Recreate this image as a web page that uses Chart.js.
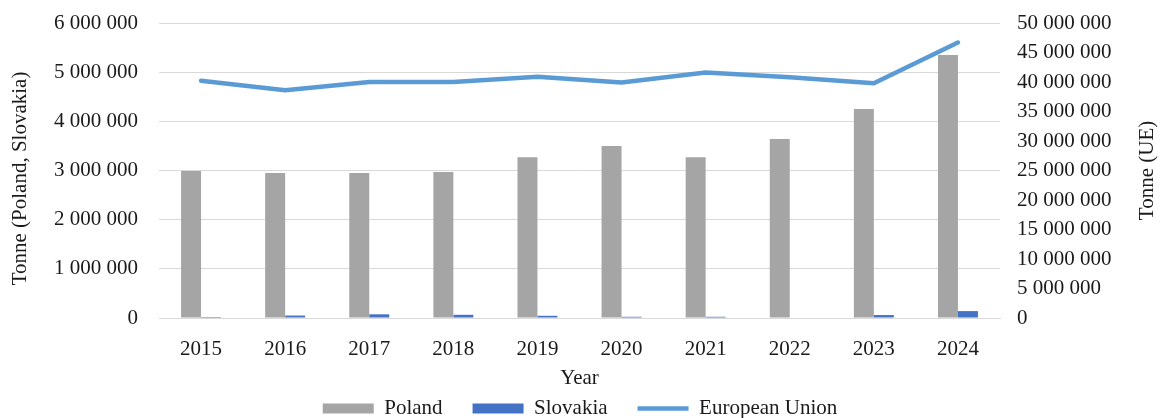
<!DOCTYPE html>
<html>
<head>
<meta charset="utf-8">
<script src="https://cdn.jsdelivr.net/npm/chart.js@4.4.1/dist/chart.umd.min.js"></script>
<style>
  html, body { margin: 0; padding: 0; background: #fff; overflow: hidden; }
  #wrap { width: 1160px; height: 418px; overflow: hidden; }
</style>
</head>
<body>
<div id="wrap"><canvas id="chartCanvas" width="1160" height="429"></canvas></div>
<script>
const years = ['2015', '2016', '2017', '2018', '2019', '2020', '2021', '2022', '2023', '2024'];
const poland = [2990000, 2950000, 2950000, 2970000, 3270000, 3500000, 3270000, 3640000, 4250000, 5350000];
const slovakia = [20000, 50000, 75000, 65000, 45000, 25000, 25000, 10000, 60000, 140000];
const europeanUnion = [40200000, 38600000, 40000000, 40000000, 40900000, 39900000, 41600000, 40800000, 39800000, 46700000];

const serif = "'Liberation Serif', 'Times New Roman', serif";
const textColor = '#1a1a1a';

function spaced(v) {
    return Math.round(v).toString().replace(/\B(?=(\d{3})+(?!\d))/g, ' ');
}

// titres verticaux des deux axes (lus de bas en haut)
const sideTitles = {
    id: 'sideTitles',
    afterDraw(chart) {
        const ctx = chart.ctx;
        const mid = (chart.chartArea.top + chart.chartArea.bottom) / 2;
        ctx.save();
        ctx.font = '21px ' + serif;
        ctx.fillStyle = textColor;
        ctx.textAlign = 'center';
        ctx.textBaseline = 'middle';
        [[20, mid + 8, 'Tonne (Poland, Slovakia)'], [1147, mid, 'Tonne (UE)']].forEach(([x, y, txt]) => {
            ctx.save();
            ctx.translate(x, y);
            ctx.rotate(-Math.PI / 2);
            ctx.fillText(txt, 0, 0);
            ctx.restore();
        });
        ctx.restore();
    }
};

function fitSide(width) {
    return (s) => {
        s.width = width;
        s.paddingTop = 0;
        s.paddingBottom = 0;
    };
}

let chart = document.querySelector('#chartCanvas');

let graph = new Chart(chart, {
    data: {
        labels: years,
        datasets: [
            {
                type: 'bar',
                label: 'Poland',
                data: poland,
                backgroundColor: '#a5a5a5',
                yAxisID: 'y',
                categoryPercentage: 0.475,
                barPercentage: 1,
                pointStyle: 'rect'
            },
            {
                type: 'bar',
                label: 'Slovakia',
                data: slovakia,
                backgroundColor: '#4472c4',
                yAxisID: 'y',
                categoryPercentage: 0.475,
                barPercentage: 1,
                pointStyle: 'rect'
            },
            {
                type: 'line',
                label: 'European Union',
                data: europeanUnion,
                borderColor: '#5b9bd5',
                backgroundColor: '#5b9bd5',
                borderWidth: 4.5,
                borderCapStyle: 'round',
                borderJoinStyle: 'round',
                pointRadius: 0,
                pointStyle: 'line',
                tension: 0,
                yAxisID: 'y1'
            }
        ]
    },
    options: {
        responsive: false,
        animation: false,
        layout: { padding: { top: 23, left: 0, right: 0, bottom: 0 } },
        scales: {
            x: {
                grid: { display: false },
                border: { color: '#d9d9d9' },
                ticks: { color: textColor, font: { family: serif, size: 21 }, padding: 11, maxRotation: 0 },
                title: {
                    display: true,
                    text: 'Year',
                    color: textColor,
                    font: { family: serif, size: 21 },
                    padding: { top: 0, bottom: -22.6 }
                },
                afterFit: (s) => { s.height = 50; }
            },
            y: {
                position: 'left',
                min: 0,
                max: 6000000,
                grid: { color: '#d9d9d9', drawTicks: false },
                border: { display: false },
                ticks: {
                    stepSize: 1000000,
                    color: textColor,
                    font: { family: serif, size: 21 },
                    padding: 21,
                    callback: (v) => spaced(v)
                },
                afterFit: fitSide(159)
            },
            y1: {
                position: 'right',
                min: 0,
                max: 50000000,
                grid: { drawOnChartArea: false, drawTicks: false },
                border: { display: false },
                ticks: {
                    stepSize: 5000000,
                    color: textColor,
                    font: { family: serif, size: 21 },
                    padding: 17,
                    callback: (v) => spaced(v)
                },
                afterFit: fitSide(160)
            }
        },
        plugins: {
            tooltip: { enabled: false },
            legend: {
                display: true,
                position: 'bottom',
                labels: {
                    usePointStyle: true,
                    pointStyleWidth: 51,
                    boxHeight: 10,
                    padding: 30,
                    color: textColor,
                    font: { family: serif, size: 21 }
                }
            }
        }
    },
    plugins: [sideTitles]
});
</script>
</body>
</html>
